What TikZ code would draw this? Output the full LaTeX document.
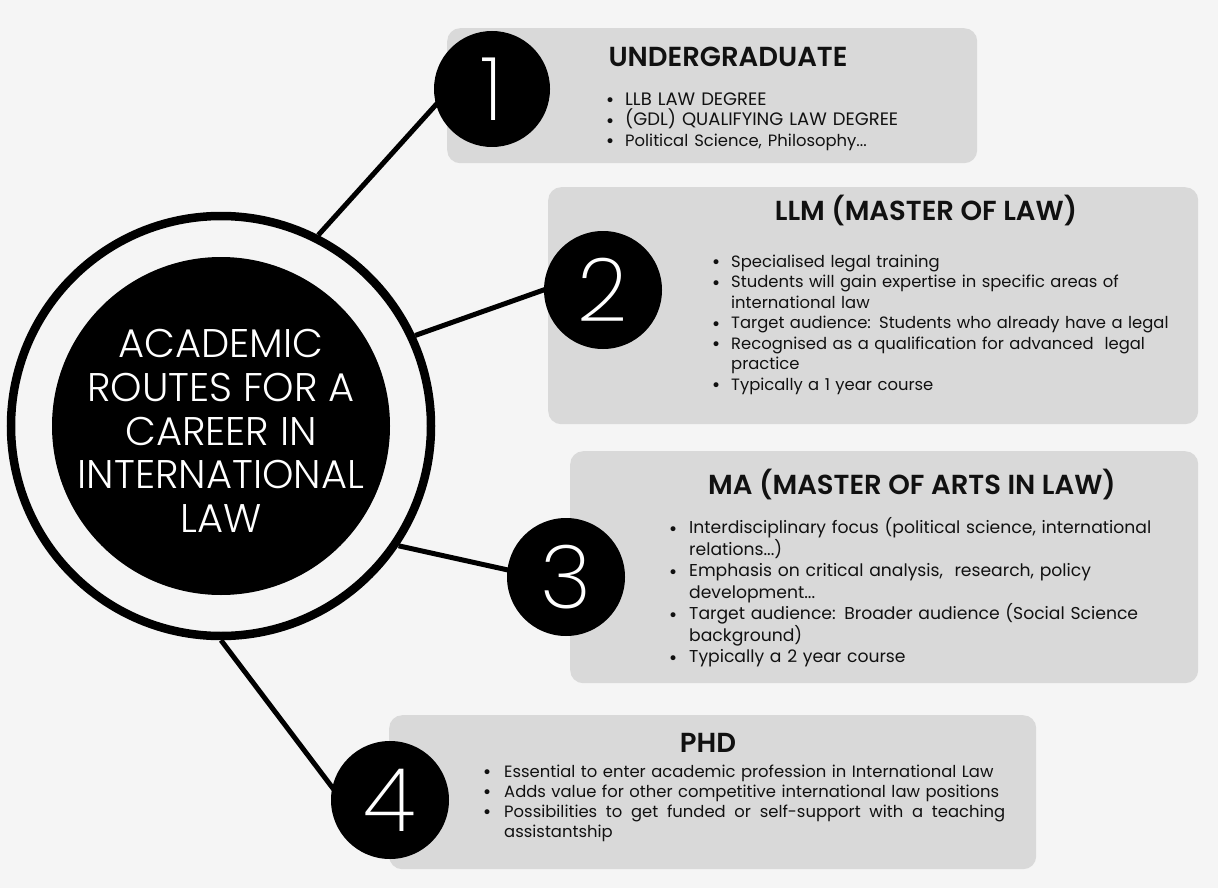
\documentclass[tikz,border=0pt]{standalone}
\usepackage{fontspec}
\setmainfont{Poppins}
\IfFontExistsTF{Poppins Light}{\newfontfamily\thinfont{Poppins Light}}{\newfontfamily\thinfont{Poppins}}
\IfFontExistsTF{Poppins ExtraLight}{\newfontfamily\xthinfont{Poppins ExtraLight}}{\let\xthinfont\thinfont}
\IfFontExistsTF{Poppins SemiBold}{\newfontfamily\titlefont{Poppins SemiBold}}{\newcommand\titlefont{\bfseries}}
\newfontfamily\bulfont{DejaVu Sans}
\definecolor{bgc}{HTML}{F5F5F5}
\definecolor{boxc}{HTML}{D9D9D9}
\definecolor{ink}{HTML}{111111}
\newcommand\bul{{\bulfont\fontsize{17}{17}\selectfont\raisebox{-1.5pt}{•}}}
% item with hanging indent
\newcommand\itm[2][20pt]{\par\lineskiplimit=-30pt\hangindent=#1\hangafter=1\noindent\makebox[#1][l]{\bul}\strut #2\par}
\begin{document}
\begin{tikzpicture}[x=1pt,y=-1pt,
  panel/.style={fill=boxc, rounded corners=13pt, anchor=north west, inner sep=0pt},
  numc/.style={circle, fill=black, inner sep=0pt, minimum size=118pt, text=white,
    font=\xthinfont\fontsize{88}{88}\selectfont},
  link/.style={line width=5pt, draw=black},
  ttl/.style={anchor=base, inner sep=0pt, text=ink, font=\titlefont\fontsize{27.5}{30}\selectfont},
  body/.style={anchor=north west, inner sep=0pt, text=ink, align=left},
]
\useasboundingbox (0,0) rectangle (1218,888);
\fill[bgc] (0,0) rectangle (1218,888);

% panels
\node[panel, minimum width=530pt, minimum height=135pt] (b1) at (447,28) {};
\node[panel, minimum width=650pt, minimum height=237pt] (b2) at (548,187) {};
\node[panel, minimum width=628pt, minimum height=232pt] (b3) at (570,451) {};
\node[panel, minimum width=647pt, minimum height=154pt] (b4) at (389,715) {};

% central hub
\node[circle, draw=black, line width=8.5pt, minimum size=420pt, inner sep=0pt] (ring) at (221,426) {};
\node[circle, fill=black, minimum size=338pt, inner sep=0pt] (hub) at (221,426) {};
\node[text=white, align=center, inner sep=0pt, font=\thinfont\fontsize{40}{43.75}\selectfont] (hubtext) at (221,431)
  {ACADEMIC\\ROUTES FOR A\\CAREER IN\\INTERNATIONAL\\LAW};

% connector ends
\coordinate (e1) at (442,98);
\coordinate (e2) at (552,287);
\coordinate (e3) at (517,572);
\coordinate (e4) at (338,795);
\draw[link] (ring.63) -- (e1);
\draw[link] (ring.25) -- (e2);
\draw[link] (ring.-34) -- (e3);
\draw[link] (ring.-90) -- (e4);

% number circles
\node[numc, minimum size=116pt] (c1) at (492,89) {1};
\node[numc] (c2) at (603,290) {2};
\node[numc] (c3) at (566,577) {3};
\node[numc] (c4) at (390,800) {4};

% titles
\node[ttl] (t1) at (728,66.7) {UNDERGRADUATE};
\node[ttl] (t2) at (926,220.7) {LLM (MASTER OF LAW)};
\node[ttl] (t3) at (912,494.7) {MA (MASTER OF ARTS IN LAW)};
\node[ttl] (t4) at (708,752.7) {PHD};

% bodies
\node[body, text width=360pt, font=\fontsize{18}{20.5}\selectfont] (l1) at (605,84.6) {%
  \itm{LLB LAW DEGREE}
  \itm{(GDL) QUALIFYING LAW DEGREE}
  \itm{\fontsize{16.4}{20.5}\selectfont Political Science, Philosophy...}};
\node[body, text width=480pt, font=\fontsize{16.4}{20.5}\selectfont] (l2) at (711,246.6) {%
  \itm{Specialised legal training}
  \itm{Students will gain expertise in specific areas of\newline international law}
  \itm{Target audience: Students who already have a legal}
  \itm{Recognised as a qualification for advanced\ \ legal\newline practice}
  \itm{Typically a 1 year course}};
\node[body, text width=520pt, font=\fontsize{17.2}{21.5}\selectfont] (l3) at (668,512) {%
  \itm[21pt]{Interdisciplinary focus (political science, international\newline relations...)}
  \itm[21pt]{Emphasis on critical analysis,\ \ research, policy\newline development...}
  \itm[21pt]{Target audience: Broader audience (Social Science\newline background)}
  \itm[21pt]{Typically a 2 year course}};
\node[body, text width=540pt, font=\fontsize{16.4}{20}\selectfont] (l4) at (482,757) {%
  \itm[22pt]{Essential to enter academic profession in International Law}
  \itm[22pt]{Adds value for other competitive international law positions}
  \itm[22pt]{\makebox[501pt][s]{\spaceskip=.3333em plus 1fil\relax Possibilities to get funded or self-support with a teaching}\newline assistantship}};
\end{tikzpicture}
\end{document}
